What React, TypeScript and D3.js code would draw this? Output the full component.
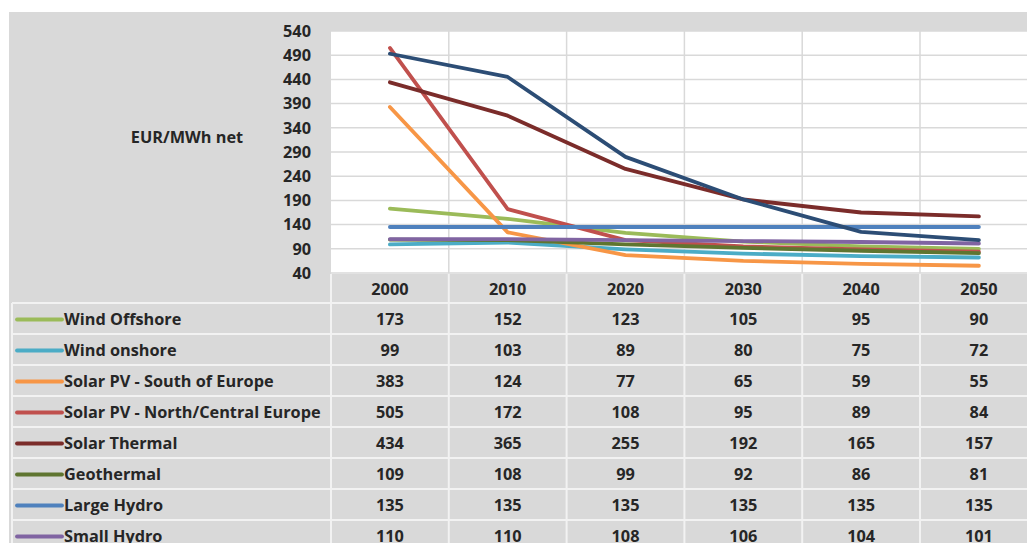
import React from "react";
import * as d3 from "d3";

const years = ["2000", "2010", "2020", "2030", "2040", "2050"];
const yTicks = [40, 90, 140, 190, 240, 290, 340, 390, 440, 490, 540];
const seriesNames = [
  "Wind Offshore",
  "Wind onshore",
  "Solar PV - South of Europe",
  "Solar PV - North/Central Europe",
  "Solar Thermal",
  "Geothermal",
  "Large Hydro",
  "Small Hydro",
  "Wave & Tidal",
];
const windOffshore = [173, 152, 123, 105, 95, 90];
const windOnshore = [99, 103, 89, 80, 75, 72];
const solarSouth = [383, 124, 77, 65, 59, 55];
const solarNorth = [505, 172, 108, 95, 89, 84];
const solarThermal = [434, 365, 255, 192, 165, 157];
const geothermal = [109, 108, 99, 92, 86, 81];
const largeHydro = [135, 135, 135, 135, 135, 135];
const smallHydro = [110, 110, 108, 106, 104, 101];
const waveTidal = [493, 445, 280, 192, 125, 108];
const seriesValues = [
  windOffshore,
  windOnshore,
  solarSouth,
  solarNorth,
  solarThermal,
  geothermal,
  largeHydro,
  smallHydro,
  waveTidal,
];
const colors = [
  "#9bbb59",
  "#4bacc6",
  "#f79646",
  "#c0504d",
  "#7b2c2a",
  "#5f7530",
  "#4f81bd",
  "#8064a2",
  "#2c4d75",
];

const W = 1027;
const H = 543;
const plotLeft = 331;
const colW = 117.8;
const plotTop = 31;
const plotBottom = 273;
const rowH = 31;
const headerTop = 274;
const tableTop = 303;
const font = "'Open Sans', Lato, sans-serif";
const fs = 16.3;

export default function App() {
  const x = d3
    .scaleBand<string>()
    .domain(years)
    .range([plotLeft, plotLeft + colW * years.length]);
  const xc = (yr: string) => (x(yr) as number) + x.bandwidth() / 2;
  const y = d3.scaleLinear().domain([40, 540]).range([plotBottom, plotTop]);
  const line = d3
    .line<number>()
    .x((_, i) => xc(years[i]))
    .y((v) => y(v));

  const tableBottom = tableTop + rowH * seriesNames.length;

  return (
    <svg
      width={W}
      height={H}
      style={{ position: "absolute", left: 0, top: 0, display: "block" }}
      fontFamily={font}
    >
      <rect x={0} y={0} width={W} height={H} fill="#ffffff" />
      <rect x={9} y={12} width={W - 9} height={H - 12} fill="#d9d9d9" />
      <rect
        x={plotLeft}
        y={plotTop}
        width={W - plotLeft}
        height={plotBottom - plotTop + 1}
        fill="#ffffff"
      />
      {yTicks.map((t) => (
        <line
          key={"g" + t}
          x1={plotLeft}
          x2={W}
          y1={y(t)}
          y2={y(t)}
          stroke="#d9d9d9"
          strokeWidth={1.5}
        />
      ))}
      {years.slice(1).map((yr) => (
        <line
          key={"v" + yr}
          x1={x(yr) as number}
          x2={x(yr) as number}
          y1={plotTop}
          y2={plotBottom}
          stroke="#d9d9d9"
          strokeWidth={1.5}
        />
      ))}
      {yTicks.map((t) => (
        <text
          key={"t" + t}
          x={311}
          y={y(t)}
          dy="0.35em"
          textAnchor="end"
          fontSize={fs}
          fontWeight="bold"
          fill="#262626"
        >
          {t}
        </text>
      ))}
      <text
        x={187}
        y={137}
        dy="0.35em"
        textAnchor="middle"
        fontSize={fs}
        fontWeight="bold"
        fill="#262626"
      >
        EUR/MWh net
      </text>
      {seriesValues.map((vals, si) => (
        <path
          key={"l" + si}
          d={line(vals) as string}
          fill="none"
          stroke={colors[si]}
          strokeWidth={3.8}
          strokeLinejoin="round"
          strokeLinecap="round"
        />
      ))}
      {years.map((yr) => (
        <text
          key={"h" + yr}
          x={xc(yr)}
          y={(headerTop + tableTop) / 2 + 1}
          dy="0.35em"
          textAnchor="middle"
          fontSize={fs}
          fontWeight="bold"
          fill="#262626"
        >
          {yr}
        </text>
      ))}
      {years.map((yr) => (
        <line
          key={"hv" + yr}
          x1={x(yr) as number}
          x2={x(yr) as number}
          y1={headerTop}
          y2={tableBottom}
          stroke="#f2f2f2"
          strokeWidth={2}
        />
      ))}
      {d3.range(seriesNames.length + 1).map((r) => (
        <line
          key={"r" + r}
          x1={12}
          x2={W}
          y1={tableTop + r * rowH}
          y2={tableTop + r * rowH}
          stroke="#f2f2f2"
          strokeWidth={2}
        />
      ))}
      <line
        x1={12}
        x2={12}
        y1={tableTop}
        y2={tableBottom}
        stroke="#f2f2f2"
        strokeWidth={2}
      />
      {seriesNames.map((name, r) => {
        const cy = tableTop + r * rowH + rowH / 2 + 1;
        return (
          <g key={"row" + r}>
            <line
              x1={17}
              x2={62}
              y1={cy}
              y2={cy}
              stroke={colors[r]}
              strokeWidth={3.8}
              strokeLinecap="round"
            />
            <text
              x={64}
              y={cy}
              dy="0.35em"
              fontSize={fs}
              fontWeight="bold"
              fill="#262626"
            >
              {name}
            </text>
            {seriesValues[r].map((v, i) => (
              <text
                key={i}
                x={xc(years[i])}
                y={cy}
                dy="0.35em"
                textAnchor="middle"
                fontSize={fs}
                fontWeight="bold"
                fill="#262626"
              >
                {v}
              </text>
            ))}
          </g>
        );
      })}
    </svg>
  );
}
